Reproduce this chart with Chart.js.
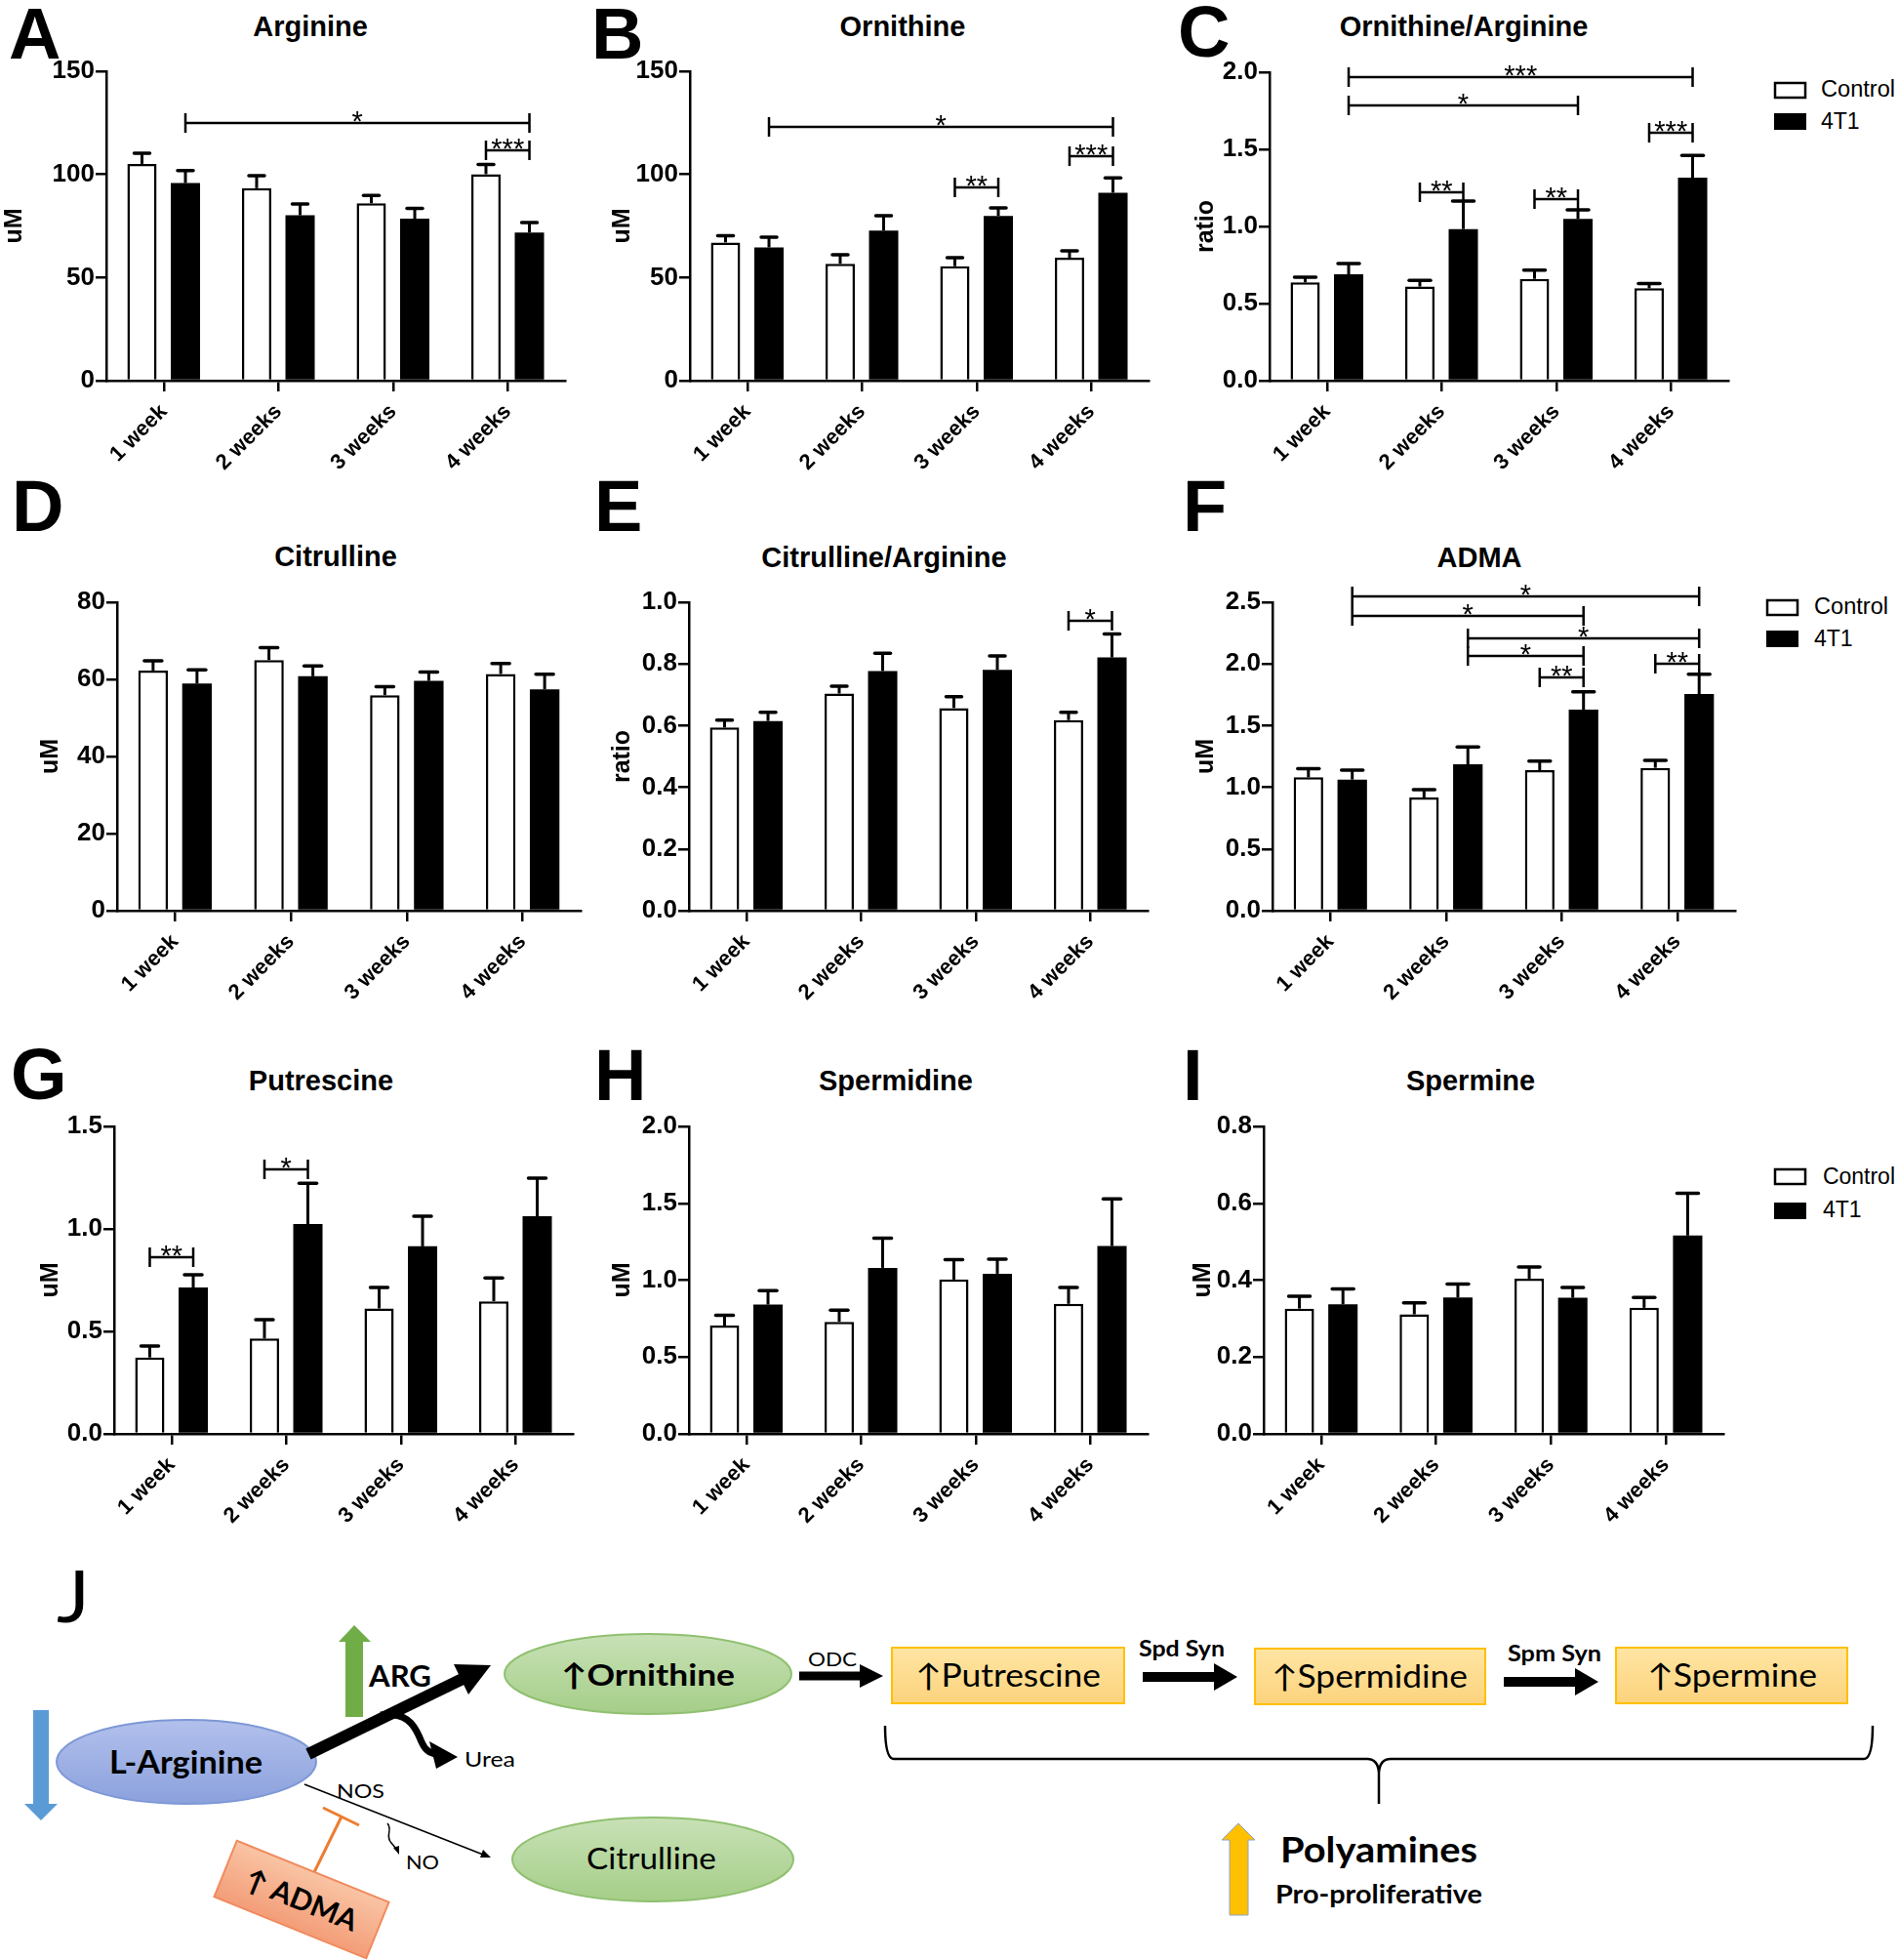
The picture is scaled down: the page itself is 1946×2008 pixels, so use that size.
<!DOCTYPE html>
<html>
<head>
<meta charset="utf-8">
<title>Arginine metabolites in 4T1 tumour-bearing mice</title>
<script src="https://cdn.jsdelivr.net/npm/chart.js@4.4.1/dist/chart.umd.min.js"></script>
<style>
  html, body { margin: 0; padding: 0; background: #fff; }
  #page { position: relative; width: 1946px; height: 2008px; overflow: hidden; background: #fff; }
  #page canvas { position: absolute; }
  #overlay { position: absolute; left: 0; top: 0; }
</style>
</head>
<body>
<div id="page">
<svg id="overlay" width="1946" height="2008" viewBox="0 0 1946 2008" xmlns="http://www.w3.org/2000/svg">
  <defs>
    <linearGradient id="gBlue" x1="0" y1="0" x2="0" y2="1">
      <stop offset="0" stop-color="#b2c0ec"/><stop offset="1" stop-color="#8ba1dd"/>
    </linearGradient>
    <linearGradient id="gGreen" x1="0" y1="0" x2="0" y2="1">
      <stop offset="0" stop-color="#c8e1b6"/><stop offset="1" stop-color="#a5ce88"/>
    </linearGradient>
    <linearGradient id="gYellow" x1="0" y1="0" x2="0" y2="1">
      <stop offset="0" stop-color="#ffe5a3"/><stop offset="1" stop-color="#fcd37d"/>
    </linearGradient>
    <linearGradient id="gOrange" x1="0" y1="0" x2="0" y2="1">
      <stop offset="0" stop-color="#f9c4a4"/><stop offset="1" stop-color="#f39d78"/>
    </linearGradient>
  </defs>

  <!-- panel letters -->
  <g font-family="'Liberation Sans', Arial, sans-serif" font-weight="bold" font-size="74" fill="#000">
    <text x="9" y="60">A</text>
    <text x="606" y="60">B</text>
    <text x="1207" y="58">C</text>
    <text x="12" y="544">D</text>
    <text x="609" y="544">E</text>
    <text x="1212" y="544">F</text>
    <text x="11" y="1126">G</text>
    <text x="609" y="1127">H</text>
    <text x="1212" y="1127">I</text>
  </g>

  <!-- panel titles -->
  <g font-family="'Liberation Sans', Arial, sans-serif" font-weight="bold" font-size="29" fill="#000" text-anchor="middle">
    <text x="318" y="37">Arginine</text>
    <text x="925" y="37">Ornithine</text>
    <text x="1500" y="37">Ornithine/Arginine</text>
    <text x="344" y="580">Citrulline</text>
    <text x="906" y="581">Citrulline/Arginine</text>
    <text x="1516" y="581">ADMA</text>
    <text x="329" y="1117">Putrescine</text>
    <text x="918" y="1117">Spermidine</text>
    <text x="1507" y="1117">Spermine</text>
  </g>

  <!-- legends -->
  <g font-family="'Liberation Sans', Arial, sans-serif" font-size="23" fill="#000">
    <rect x="1819" y="85" width="31" height="15" fill="#fff" stroke="#000" stroke-width="2.5"/>
    <rect x="1818" y="116" width="33" height="17" fill="#000"/>
    <text x="1866" y="99" textLength="76" lengthAdjust="spacingAndGlyphs">Control</text>
    <text x="1866" y="132">4T1</text>

    <rect x="1811" y="615" width="31" height="15" fill="#fff" stroke="#000" stroke-width="2.5"/>
    <rect x="1810" y="646" width="33" height="17" fill="#000"/>
    <text x="1859" y="629" textLength="76" lengthAdjust="spacingAndGlyphs">Control</text>
    <text x="1859" y="662">4T1</text>

    <rect x="1819" y="1198" width="31" height="15" fill="#fff" stroke="#000" stroke-width="2.5"/>
    <rect x="1818" y="1232" width="33" height="17" fill="#000"/>
    <text x="1868" y="1213" textLength="74" lengthAdjust="spacingAndGlyphs">Control</text>
    <text x="1868" y="1247">4T1</text>
  </g>

  <!-- panel J: pathway diagram -->
  <g font-family="Lato, 'Open Sans', sans-serif" fill="#000">
    <text x="58" y="1662" font-size="74" font-weight="normal" textLength="34" lengthAdjust="spacingAndGlyphs">J</text>

    <!-- blue down arrow -->
    <polygon points="34,1752 50,1752 50,1848 59,1848 42,1865 25,1848 34,1848" fill="#5b9bd5"/>
    <!-- L-Arginine -->
    <ellipse cx="191" cy="1805" rx="133" ry="43" fill="url(#gBlue)" stroke="#7e98d6" stroke-width="2"/>
    <text x="112" y="1817" font-size="32" font-weight="bold" textLength="157" lengthAdjust="spacingAndGlyphs">L-Arginine</text>

    <!-- green up arrow + ARG -->
    <polygon points="354,1759 372,1759 372,1682 380,1682 363,1665 347,1682 354,1682" fill="#70ad47"/>
    <text x="378" y="1728" font-size="30" font-weight="bold" textLength="64" lengthAdjust="spacingAndGlyphs">ARG</text>

    <!-- thick arginase arrow -->
    <line x1="316" y1="1797" x2="476" y2="1719" stroke="#000" stroke-width="12"/>
    <polygon points="503,1706 480,1736 465,1705" fill="#000"/>
    <!-- urea branch -->
    <path d="M 390 1757 C 416 1754, 424 1766, 430 1780 C 434 1790, 437 1795, 446 1797" fill="none" stroke="#000" stroke-width="7"/>
    <polygon points="469,1800 440,1784 447,1812" fill="#000"/>
    <text x="476" y="1810" font-size="21" textLength="52" lengthAdjust="spacingAndGlyphs">Urea</text>

    <!-- Ornithine -->
    <ellipse cx="664" cy="1715" rx="147" ry="41" fill="url(#gGreen)" stroke="#90c070" stroke-width="2"/>
    <text x="575" y="1727" font-size="31" font-weight="bold" textLength="178" lengthAdjust="spacingAndGlyphs">↑Ornithine</text>

    <!-- NOS thin arrow -->
    <line x1="312" y1="1828" x2="495" y2="1900" stroke="#000" stroke-width="1.5"/>
    <polygon points="503,1903 492,1903 495,1895" fill="#000"/>
    <text x="345" y="1842" font-size="20" textLength="49" lengthAdjust="spacingAndGlyphs">NOS</text>
    <path d="M 397 1868 C 403 1875, 394 1880, 401 1888 L 406 1894" fill="none" stroke="#000" stroke-width="1.5"/>
    <polygon points="409,1900 403,1893 409,1891" fill="#000"/>
    <text x="416" y="1915" font-size="20" textLength="34" lengthAdjust="spacingAndGlyphs">NO</text>

    <!-- Citrulline -->
    <ellipse cx="669" cy="1905" rx="144" ry="43" fill="url(#gGreen)" stroke="#90c070" stroke-width="2"/>
    <text x="601" y="1915" font-size="30" textLength="133" lengthAdjust="spacingAndGlyphs">Citrulline</text>

    <!-- ADMA inhibition -->
    <line x1="322" y1="1918" x2="350" y2="1861" stroke="#ed7d31" stroke-width="3"/>
    <line x1="331" y1="1852" x2="368" y2="1870" stroke="#ed7d31" stroke-width="3"/>
    <g transform="translate(309,1946) rotate(22)">
      <rect x="-84" y="-31" width="168" height="62" fill="url(#gOrange)" stroke="#f08a5d" stroke-width="2"/>
      <text x="0" y="11" font-size="30" font-weight="bold" text-anchor="middle">↑ ADMA</text>
    </g>

    <!-- ODC arrow -->
    <line x1="819" y1="1717" x2="884" y2="1717" stroke="#000" stroke-width="9"/>
    <polygon points="881,1705 905,1717 881,1729" fill="#000"/>
    <text x="828" y="1707" font-size="20" textLength="50" lengthAdjust="spacingAndGlyphs">ODC</text>

    <!-- polyamine boxes -->
    <rect x="914" y="1688" width="238" height="57" fill="url(#gYellow)" stroke="#ffc000" stroke-width="2"/>
    <text x="938" y="1728" font-size="32" textLength="190" lengthAdjust="spacingAndGlyphs">↑Putrescine</text>

    <line x1="1171" y1="1718" x2="1246" y2="1718" stroke="#000" stroke-width="10"/>
    <polygon points="1244,1704 1268,1718 1244,1732" fill="#000"/>
    <text x="1167" y="1697" font-size="23" font-weight="bold" textLength="88" lengthAdjust="spacingAndGlyphs">Spd Syn</text>

    <rect x="1286" y="1689" width="236" height="57" fill="url(#gYellow)" stroke="#ffc000" stroke-width="2"/>
    <text x="1303" y="1729" font-size="32" textLength="201" lengthAdjust="spacingAndGlyphs">↑Spermidine</text>

    <line x1="1541" y1="1723" x2="1616" y2="1723" stroke="#000" stroke-width="10"/>
    <polygon points="1614,1709 1638,1723 1614,1737" fill="#000"/>
    <text x="1545" y="1702" font-size="23" font-weight="bold" textLength="96" lengthAdjust="spacingAndGlyphs">Spm Syn</text>

    <rect x="1656" y="1688" width="237" height="57" fill="url(#gYellow)" stroke="#ffc000" stroke-width="2"/>
    <text x="1688" y="1728" font-size="32" textLength="174" lengthAdjust="spacingAndGlyphs">↑Spermine</text>

    <!-- brace -->
    <path d="M 907 1768 Q 907 1802 916 1802 L 1401 1802 Q 1412 1802 1413 1816 L 1413 1848 M 1413 1816 Q 1414 1802 1425 1802 L 1910 1802 Q 1919 1802 1919 1768"
          fill="none" stroke="#000" stroke-width="2.5"/>

    <!-- yellow up arrow -->
    <polygon points="1260,1962 1260,1885 1252,1885 1269,1868 1286,1885 1279,1885 1279,1962" fill="#ffc000" stroke="#8ea2c8" stroke-width="1"/>
    <text x="1312" y="1908" font-size="37" font-weight="bold" textLength="202" lengthAdjust="spacingAndGlyphs">Polyamines</text>
    <text x="1307" y="1950" font-size="26" font-weight="bold" textLength="212" lengthAdjust="spacingAndGlyphs">Pro-proliferative</text>
  </g>
</svg>
</div>

<script>
// ---- data ----
const weeks = ['1 week', '2 weeks', '3 weeks', '4 weeks'];
const seriesNames = ['Control', '4T1'];

// A  Arginine (uM)
const argControl = [105.1, 93.3, 86.0, 100.1];
const argControlErr = [5.2, 6.1, 3.8, 4.7];
const argTumor = [95.8, 80.2, 78.5, 71.8];
const argTumorErr = [6.0, 5.4, 5.0, 4.8];
const argTicks = ['0', '50', '100', '150'];
// [group, series, group, series, level, label]
const argSig = [[0, 1, 3, 1, 124.8, '*'], [3, 0, 3, 1, 111.6, '***']];

// B  Ornithine (uM)
const ornControl = [67.0, 56.7, 55.5, 59.6];
const ornControlErr = [3.3, 4.3, 4.1, 3.3];
const ornTumor = [64.6, 72.8, 79.9, 91.1];
const ornTumorErr = [5.0, 7.2, 3.9, 7.2];
const ornTicks = ['0', '50', '100', '150'];
const ornSig = [[0, 1, 3, 1, 122.9, '*'], [2, 0, 2, 1, 93.7, '**'], [3, 0, 3, 1, 108.6, '***']];

// C  Ornithine/Arginine (ratio)
const oaControl = [0.637, 0.610, 0.660, 0.599];
const oaControlErr = [0.034, 0.040, 0.057, 0.030];
const oaTumor = [0.690, 0.983, 1.049, 1.316];
const oaTumorErr = [0.070, 0.182, 0.059, 0.144];
const oaTicks = ['0.0', '0.5', '1.0', '1.5', '2.0'];
const oaSig = [[0, 1, 3, 1, 1.966, '***'], [0, 1, 2, 1, 1.787, '*'], [1, 0, 1, 1, 1.219, '**'],
               [2, 0, 2, 1, 1.177, '**'], [3, 0, 3, 1, 1.608, '***']];

// D  Citrulline (uM)
const citControl = [62.3, 65.0, 55.9, 61.4];
const citControlErr = [2.5, 3.2, 2.2, 2.7];
const citTumor = [58.9, 60.8, 59.6, 57.4];
const citTumorErr = [3.6, 2.7, 2.3, 3.9];
const citTicks = ['0', '20', '40', '60', '80'];

// E  Citrulline/Arginine (ratio)
const caControl = [0.594, 0.704, 0.657, 0.618];
const caControlErr = [0.024, 0.024, 0.037, 0.025];
const caTumor = [0.615, 0.777, 0.781, 0.821];
const caTumorErr = [0.028, 0.058, 0.045, 0.076];
const caTicks = ['0.0', '0.2', '0.4', '0.6', '0.8', '1.0'];
const caSig = [[3, 0, 3, 1, 0.939, '*']];

// F  ADMA (uM)
const admaControl = [1.081, 0.918, 1.139, 1.158];
const admaControlErr = [0.071, 0.063, 0.074, 0.060];
const admaTumor = [1.063, 1.187, 1.630, 1.756];
const admaTumorErr = [0.076, 0.140, 0.145, 0.161];
const admaTicks = ['0.0', '0.5', '1.0', '1.5', '2.0', '2.5'];
const admaSig = [[0, 1, 3, 1, 2.545, '*'], [0, 1, 2, 1, 2.389, '*'], [1, 1, 3, 1, 2.207, '*'],
                 [1, 1, 2, 1, 2.062, '*'], [2, 0, 2, 1, 1.891, '**'], [3, 0, 3, 1, 2.004, '**']];

// G  Putrescine (uM)
const putControl = [0.373, 0.465, 0.612, 0.647];
const putControlErr = [0.055, 0.092, 0.102, 0.114];
const putTumor = [0.714, 1.024, 0.915, 1.062];
const putTumorErr = [0.062, 0.199, 0.147, 0.186];
const putTicks = ['0.0', '0.5', '1.0', '1.5'];
const putSig = [[0, 0, 0, 1, 0.861, '**'], [1, 0, 1, 1, 1.289, '*']];

// H  Spermidine (uM)
const spdControl = [0.704, 0.729, 1.004, 0.846];
const spdControlErr = [0.068, 0.076, 0.129, 0.107];
const spdTumor = [0.841, 1.080, 1.042, 1.222];
const spdTumorErr = [0.091, 0.193, 0.095, 0.307];
const spdTicks = ['0.0', '0.5', '1.0', '1.5', '2.0'];

// I  Spermine (uM)
const spmControl = [0.326, 0.311, 0.404, 0.328];
const spmControlErr = [0.032, 0.030, 0.030, 0.027];
const spmTumor = [0.337, 0.355, 0.354, 0.516];
const spmTumorErr = [0.040, 0.035, 0.027, 0.110];
const spmTicks = ['0.0', '0.2', '0.4', '0.6', '0.8'];

// ---- layout ----
const FONT = '"Liberation Sans", Arial, sans-serif';
const NARROW = '"Liberation Sans Narrow", "Arial Narrow", "Liberation Sans", Arial, sans-serif';
const PAD_T = 40;   // room above plot for brackets
const PAD_R = 10;
const X_H = 120;    // height reserved for rotated week labels

// plot area (L,R,T,B) and y-axis box width for every panel
const panels = [
  { axis: 'uM',    ticks: argTicks,  c: argControl,  ce: argControlErr,  t: argTumor,  te: argTumorErr,  sig: argSig,  box: [109, 579, 73, 390, 113],    cap: 16 },
  { axis: 'uM',    ticks: ornTicks,  c: ornControl,  ce: ornControlErr,  t: ornTumor,  te: ornTumorErr,  sig: ornSig,  box: [707, 1177, 73, 390, 88],    cap: 16 },
  { axis: 'ratio', ticks: oaTicks,   c: oaControl,   ce: oaControlErr,   t: oaTumor,   te: oaTumorErr,   sig: oaSig,   box: [1301, 1771, 74, 390, 84],   cap: 22 },
  { axis: 'uM',    ticks: citTicks,  c: citControl,  ce: citControlErr,  t: citTumor,  te: citTumorErr,  sig: [],      box: [120, 595, 617, 933, 87],    cap: 18 },
  { axis: 'ratio', ticks: caTicks,   c: caControl,   ce: caControlErr,   t: caTumor,   te: caTumorErr,   sig: caSig,   box: [706, 1176, 617, 933, 87],   cap: 16 },
  { axis: 'uM',    ticks: admaTicks, c: admaControl, ce: admaControlErr, t: admaTumor, te: admaTumorErr, sig: admaSig, box: [1304, 1778, 617, 933, 87],  cap: 22 },
  { axis: 'uM',    ticks: putTicks,  c: putControl,  ce: putControlErr,  t: putTumor,  te: putTumorErr,  sig: putSig,  box: [117, 587, 1154, 1469, 84],  cap: 18 },
  { axis: 'uM',    ticks: spdTicks,  c: spdControl,  ce: spdControlErr,  t: spdTumor,  te: spdTumorErr,  sig: [],      box: [706, 1176, 1154, 1469, 87], cap: 18 },
  { axis: 'uM',    ticks: spmTicks,  c: spmControl,  ce: spmControlErr,  t: spmTumor,  te: spmTumorErr,  sig: [],      box: [1295, 1766, 1154, 1469, 81], cap: 22 }
];

// SEM whiskers (upward only, Prism style)
const errorBars = {
  id: 'errorBars',
  afterDatasetsDraw(chart, args, opts) {
    const { ctx } = chart;
    const y = chart.scales.y;
    ctx.save();
    ctx.strokeStyle = '#000';
    chart.data.datasets.forEach((ds, i) => {
      chart.getDatasetMeta(i).data.forEach((bar, j) => {
        const top = y.getPixelForValue(ds.data[j] + ds.errors[j]);
        ctx.lineWidth = 3;
        ctx.lineCap = 'butt';
        ctx.beginPath();
        ctx.moveTo(bar.x, bar.y);
        ctx.lineTo(bar.x, top);
        ctx.stroke();
        ctx.lineWidth = 3.5;
        ctx.lineCap = 'round';
        ctx.beginPath();
        ctx.moveTo(bar.x - opts.cap / 2, top);
        ctx.lineTo(bar.x + opts.cap / 2, top);
        ctx.stroke();
      });
    });
    ctx.restore();
  }
};

// significance brackets
const brackets = {
  id: 'brackets',
  afterDatasetsDraw(chart, args, opts) {
    const { ctx } = chart;
    const y = chart.scales.y;
    ctx.save();
    ctx.strokeStyle = '#000';
    ctx.fillStyle = '#000';
    ctx.lineWidth = 2.5;
    ctx.font = '29px ' + FONT;
    ctx.textAlign = 'center';
    ctx.textBaseline = 'alphabetic';
    (opts.items || []).forEach(([g1, s1, g2, s2, level, label]) => {
      const x1 = chart.getDatasetMeta(s1).data[g1].x;
      const x2 = chart.getDatasetMeta(s2).data[g2].x;
      const yy = Math.round(y.getPixelForValue(level));
      ctx.beginPath();
      ctx.moveTo(x1, yy); ctx.lineTo(x2, yy);
      ctx.moveTo(x1, yy - 10); ctx.lineTo(x1, yy + 10);
      ctx.moveTo(x2, yy - 10); ctx.lineTo(x2, yy + 10);
      ctx.stroke();
      ctx.fillText(label, (x1 + x2) / 2, yy + 8);
    });
    ctx.restore();
  }
};

Chart.defaults.color = '#000';
Chart.defaults.font.family = FONT;

const page = document.getElementById('page');

panels.forEach(p => {
  const [L, R, T, B, yW] = p.box;
  const w = yW + (R - L) + PAD_R;
  const h = PAD_T + (B - T) + X_H;
  const canvas = document.createElement('canvas');
  canvas.width = w;
  canvas.height = h;
  canvas.style.left = (L - yW) + 'px';
  canvas.style.top = (T - PAD_T) + 'px';
  canvas.style.width = w + 'px';
  canvas.style.height = h + 'px';
  page.appendChild(canvas);

  const yMin = parseFloat(p.ticks[0]);
  const yMax = parseFloat(p.ticks[p.ticks.length - 1]);

  new Chart(canvas, {
    type: 'bar',
    data: {
      labels: weeks,
      datasets: [
        { label: seriesNames[0], data: p.c, errors: p.ce, backgroundColor: '#fff', borderColor: '#000', borderWidth: 2.5 },
        { label: seriesNames[1], data: p.t, errors: p.te, backgroundColor: '#000', borderColor: '#000', borderWidth: 0 }
      ]
    },
    options: {
      responsive: false,
      animation: false,
      devicePixelRatio: 1,
      layout: { padding: { top: PAD_T, right: PAD_R, left: 0, bottom: 0 } },
      datasets: { bar: { barPercentage: 0.674, categoryPercentage: 0.758 } },
      plugins: {
        legend: { display: false },
        tooltip: { enabled: false },
        title: { display: false },
        errorBars: { cap: p.cap },
        brackets: { items: p.sig }
      },
      scales: {
        x: {
          grid: { display: true, offset: false, drawOnChartArea: false, drawTicks: true, tickLength: 11, color: '#000', lineWidth: 2.5 },
          border: { display: true, color: '#000', width: 2.5 },
          ticks: { minRotation: 45, maxRotation: 45, autoSkip: false, padding: 8, color: '#000',
                   font: { family: FONT, size: 22, weight: 'bold' } },
          afterFit: s => { s.height = X_H; }
        },
        y: {
          min: yMin,
          max: yMax,
          afterBuildTicks: s => { s.ticks = p.ticks.map(t => ({ value: parseFloat(t) })); },
          grid: { display: true, drawOnChartArea: false, drawTicks: true, tickLength: 11, color: '#000', lineWidth: 2.5 },
          border: { display: true, color: '#000', width: 2.5 },
          ticks: { padding: 1, color: '#000', font: { family: NARROW, size: 26, weight: 'bold' },
                   callback: (v, i) => p.ticks[i] },
          title: { display: true, text: p.axis, color: '#000', padding: { top: 4, bottom: 4 },
                   font: { family: FONT, size: 25, weight: 'bold' } },
          afterFit: s => { s.width = yW; }
        }
      }
    },
    plugins: [errorBars, brackets]
  });
});
</script>
</body>
</html>
